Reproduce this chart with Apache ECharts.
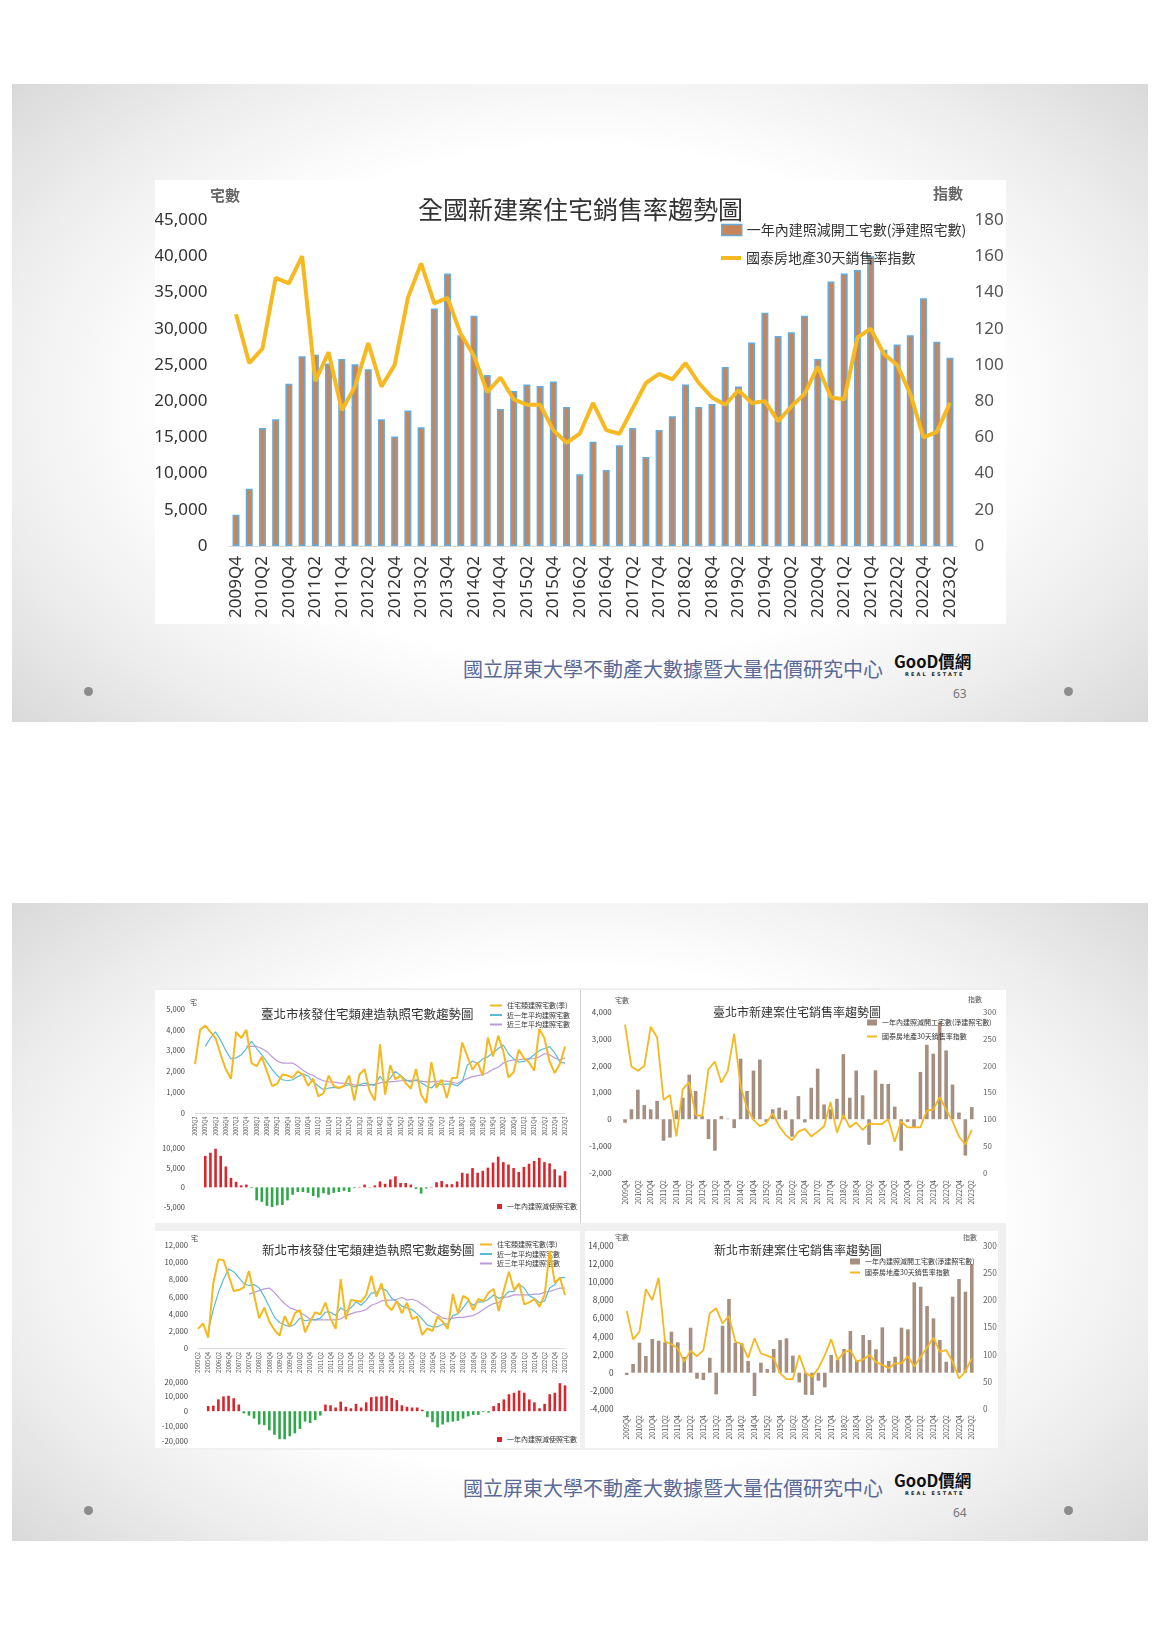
<!DOCTYPE html>
<html lang="zh-Hant">
<head>
<meta charset="utf-8">
<title>全國新建案住宅銷售率趨勢圖</title>
<script src="https://cdn.jsdelivr.net/npm/echarts@6/dist/echarts.min.js"></script>
<style>
html,body{margin:0;padding:0;}
body{width:1160px;height:1640px;background:#fff;position:relative;overflow:hidden;font-family:"Noto Sans CJK TC","Noto Sans",sans-serif;}
.slide{position:absolute;left:12px;width:1136px;height:638px;background:radial-gradient(ellipse 72% 80% at 50% 50%,#ffffff 50%,#eeeeee 72%,#d3d3d3 100%);}
.chart{position:absolute;background:#fff;}
.blk{position:absolute;}
.dot{position:absolute;width:9px;height:9px;border-radius:50%;background:#8c8c8c;}
.foot{position:absolute;left:463px;font-size:20px;color:#5a6a98;white-space:nowrap;line-height:1;}
.logo{position:absolute;left:894px;font-weight:700;font-size:16.5px;color:#111;line-height:1;white-space:nowrap;}
.re{position:absolute;left:905px;font-family:"DejaVu Sans",sans-serif;font-weight:700;font-size:5px;letter-spacing:2.1px;color:#222;line-height:1;white-space:nowrap;}
.pg{position:absolute;left:953px;font-family:"Noto Sans",sans-serif;font-size:12px;color:#777;line-height:1;}
</style>
</head>
<body>
<div class="slide" style="top:84px"></div>
<div class="slide" style="top:903px"></div>

<div class="chart" id="c0" style="left:155px;top:180px;width:851px;height:444px"></div>

<div class="blk" style="left:155px;top:988px;width:851px;height:462px;background:#f0f0f0"></div>
<div class="blk" style="left:155px;top:990px;width:851px;height:233px;background:#fff"></div>
<div class="blk" style="left:580px;top:990px;width:1px;height:233px;background:#cfcfcf"></div>
<div class="chart" id="c1" style="left:155px;top:990px;width:425px;height:232px"></div>
<div class="chart" id="c2" style="left:583px;top:990px;width:423px;height:232px"></div>
<div class="chart" id="c3" style="left:155px;top:1231px;width:425px;height:217px"></div>
<div class="chart" id="c4" style="left:585px;top:1231px;width:413px;height:217px"></div>

<div class="foot" style="top:659px">國立屏東大學不動產大數據暨大量估價研究中心</div>
<div class="logo" style="top:653px">GooD價網</div>
<div class="re" style="top:672px">REAL ESTATE</div>
<div class="pg" style="top:688px">63</div>
<div class="dot" style="left:84px;top:687px"></div>
<div class="dot" style="left:1064px;top:687px"></div>

<div class="foot" style="top:1478px">國立屏東大學不動產大數據暨大量估價研究中心</div>
<div class="logo" style="top:1472px">GooD價網</div>
<div class="re" style="top:1491px">REAL ESTATE</div>
<div class="pg" style="top:1507px">64</div>
<div class="dot" style="left:84px;top:1506px"></div>
<div class="dot" style="left:1064px;top:1506px"></div>

<script>
// ---------- categories ----------
const q55 = ['2009Q4',
 '2010Q1','2010Q2','2010Q3','2010Q4','2011Q1','2011Q2','2011Q3','2011Q4',
 '2012Q1','2012Q2','2012Q3','2012Q4','2013Q1','2013Q2','2013Q3','2013Q4',
 '2014Q1','2014Q2','2014Q3','2014Q4','2015Q1','2015Q2','2015Q3','2015Q4',
 '2016Q1','2016Q2','2016Q3','2016Q4','2017Q1','2017Q2','2017Q3','2017Q4',
 '2018Q1','2018Q2','2018Q3','2018Q4','2019Q1','2019Q2','2019Q3','2019Q4',
 '2020Q1','2020Q2','2020Q3','2020Q4','2021Q1','2021Q2','2021Q3','2021Q4',
 '2022Q1','2022Q2','2022Q3','2022Q4','2023Q1','2023Q2'];

const q73 = ['2005Q2','2005Q3','2005Q4',
 '2006Q1','2006Q2','2006Q3','2006Q4','2007Q1','2007Q2','2007Q3','2007Q4',
 '2008Q1','2008Q2','2008Q3','2008Q4','2009Q1','2009Q2','2009Q3','2009Q4',
 '2010Q1','2010Q2','2010Q3','2010Q4','2011Q1','2011Q2','2011Q3','2011Q4',
 '2012Q1','2012Q2','2012Q3','2012Q4','2013Q1','2013Q2','2013Q3','2013Q4',
 '2014Q1','2014Q2','2014Q3','2014Q4','2015Q1','2015Q2','2015Q3','2015Q4',
 '2016Q1','2016Q2','2016Q3','2016Q4','2017Q1','2017Q2','2017Q3','2017Q4',
 '2018Q1','2018Q2','2018Q3','2018Q4','2019Q1','2019Q2','2019Q3','2019Q4',
 '2020Q1','2020Q2','2020Q3','2020Q4','2021Q1','2021Q2','2021Q3','2021Q4',
 '2022Q1','2022Q2','2022Q3','2022Q4','2023Q1','2023Q2'];

// ---------- 全國 ----------
const mainBars = [4300,7900,16300,17500,22400,26200,26400,25200,25800,25100,
 24400,17500,15100,18700,16400,32800,37600,29100,31800,23600,
 18900,21400,22300,22100,22700,19200,9900,14400,10500,13900,
 16300,12300,16000,17900,22300,19200,19600,24700,22000,28100,
 32200,29000,29500,31800,25800,36500,37600,38100,40000,27100,
 27800,29100,34200,28200,26000];
const mainLine = [128,101,109,148,145,160,91,107,75,88,
 112,88,100,137,156,134,137,117,105,85,
 93,81,78,78,64,57,62,79,64,62,
 76,90,95,92,101,90,82,78,86,79,
 80,69,77,84,99,82,81,115,120,106,
 100,84,60,63,79];

// ---------- 臺北市 核發建照 (starts 2005Q2) ----------
const tpPermit = [2350,4000,4200,3900,3600,2800,2100,1650,3900,3600,
 4000,2400,2250,2700,2000,1300,1400,1850,1800,1700,
 2000,1850,1300,1650,800,950,1800,1300,1200,1300,
 1800,600,1850,2100,1040,600,3300,880,2300,1630,
 1800,1440,1170,2120,880,480,2440,1200,1600,720,
 1680,1700,3390,2720,2080,2440,1800,3630,2720,3720,
 2960,1710,1960,3040,2640,2440,2030,4040,3600,2480,
 1920,2350,3190];
const tpAvg1 = [3200,3600,3900,3500,3000,2600,2650,2800,          // from 2005Q4
 3100,3450,3100,2800,2450,2100,1800,1600,1550,1600,
 1750,1870,1780,1500,1300,1120,1200,1230,1200,1300,
 1360,1250,1350,1440,1380,1330,1760,1440,1680,2000,
 1800,1600,1490,1600,1450,1300,1200,1440,1360,1390,
 1400,1300,1500,2300,2500,2380,2600,2700,2900,3100,
 3270,2850,2600,2450,2480,2600,2800,3000,3100,3190,
 2900,2450,2400];
const tpAvg3 = [3200,3200,3200,3100,2950,2700,2500,2400,2400,2400, // from 2007Q4
 2250,2050,1900,1800,1650,1550,1500,1480,1450,1420,
 1400,1350,1320,1330,1350,1380,1450,1480,1500,1520,
 1550,1560,1570,1560,1530,1500,1500,1520,1550,1530,
 1480,1420,1550,1650,1750,1800,1850,1950,2100,2200,
 2400,2500,2550,2560,2600,2600,2620,2700,2850,2800,
 2650,2550,2650];
const tpNet = [8000,8800,9800,8000,5300,2400,1400,500,700,-200,   // from 2005Q4
 -3300,-3700,-4700,-5100,-4600,-4500,-3300,-1900,-1200,-1200,
 -1400,-2200,-2600,-1500,-1900,-1400,-1200,-900,-1200,-200,
 100,700,100,500,1500,900,2000,2800,1100,1100,
 700,-400,-1600,-300,100,1300,1600,800,800,1500,
 3700,3500,4900,3700,4200,5000,6300,7800,6400,5800,
 4900,3900,5200,6000,6700,7500,6400,6100,4600,3000,
 4100];

// ---------- 新北市 核發建照 (starts 2005Q2) ----------
const nbPermit = [2250,2900,1240,7550,10330,10260,8500,6660,6770,7080,
 8980,6190,3480,4720,3100,2130,1470,3750,2520,4060,
 4450,1860,3100,4180,3950,5300,3480,2250,8050,3370,
 5610,5530,5420,6190,8440,6000,7550,5030,4450,5500,
 4060,5300,3400,3680,1550,2320,2010,3680,3100,2250,
 6310,4060,6080,5730,4450,5730,5500,6460,6890,4340,
 6770,8900,6770,7550,5110,5340,5730,4840,6190,11300,
 7600,8200,6200];
const nbAvg1 = [2000,4500,6500,8000,9200,8900,8200,7500,            // from 2005Q4
 7300,7400,7000,6000,4800,3600,3000,2700,2500,2800,
 3500,3200,3300,3300,3500,4200,4200,3800,4700,4300,
 4700,5400,5000,5600,6400,6500,7000,6700,5800,5400,
 4900,4700,4500,4000,3400,2700,2500,2500,2800,2800,
 3800,4000,4700,5500,5000,5400,5400,5700,6200,5800,
 6000,6600,6600,7400,7000,6100,5800,5300,5500,7000,
 7400,8200,8200];
const nbAvg3 = [6300,6500,6700,6900,7000,6500,5800,5200,4700,4500, // from 2007Q4
 4200,3800,3400,3300,3300,3300,3300,3300,3400,3800,
 4000,4200,4300,4500,5000,5200,5500,5600,5600,5700,
 5900,5600,5700,5500,5100,4700,4200,3900,3500,3400,
 3500,3600,3600,3700,3800,4100,4500,4900,5200,5300,
 5900,6000,6200,6200,6200,6200,6300,6300,6500,6600,
 6800,7000,7000];
const nbNet = [3500,3800,8000,10000,10500,8800,4500,                // from 2005Q4
 -1500,-3000,-5000,-9000,-9500,-13000,-16000,-19000,-19000,-17000,-15000,-12000,-7000,-8000,-6000,-3000,
 4500,4000,2500,6500,3000,2000,5000,2500,6000,9500,10000,10000,10500,9000,7500,4000,3000,2500,2500,1000,
 -4000,-7500,-11000,-9000,-7500,-7000,-6500,-5000,-3500,-2500,-2500,-500,-1000,
 3500,5500,8000,11500,12500,14000,12500,8000,6000,2000,5000,11500,12500,19000,17500];

// ---------- 臺北市 / 新北市 銷售率 (2009Q4–2023Q2) ----------
const tpNetStart = [-130,370,1100,530,370,680,-800,-680,330,800,
 1660,1050,120,-740,-1170,120,20,-330,2250,1050,
 1810,2220,-100,370,430,330,-650,860,-120,1170,
 1880,550,370,760,2420,800,1810,890,-950,1820,
 1320,1310,470,-1170,-100,-310,1760,2770,2440,3610,
 2560,1290,250,-1350,450];
const tpIndex = [276,198,190,199,272,252,136,145,68,156,
 169,108,106,193,207,168,190,259,161,121,
 99,87,93,111,87,71,61,77,82,68,
 77,87,132,75,108,85,94,80,92,91,
 91,100,58,96,85,85,85,116,118,141,
 118,96,68,53,80];
const nbNetStart = [-260,960,3310,1840,3710,3530,3350,4520,3350,1730,
 4960,-660,-810,1650,-2390,5180,8120,3310,3240,1290,
 -2570,1100,400,2610,3600,3790,1880,-1070,-2430,-2460,
 -880,-1620,1950,1400,2610,4600,1400,4150,3600,2570,
 5000,1290,1760,4960,4780,9960,9490,7350,5990,3600,
 1210,8380,10330,8930,11950];
const nbIndex = [180,128,142,220,200,241,124,119,111,87,
 107,97,108,176,185,157,171,124,119,94,
 130,102,98,93,66,55,55,99,66,59,
 75,99,128,90,104,108,87,91,99,86,
 81,75,84,84,97,78,96,113,131,105,
 108,87,56,69,93];

// ---------- names ----------
const NAME_NET = '一年內建照減開工宅數(淨建照宅數)';
const NAME_IDX = '國泰房地產30天銷售率指數';
const NAME_P = '住宅類建照宅數(季)';
const NAME_A1 = '近一年平均建照宅數';
const NAME_A3 = '近三年平均建照宅數';
const NAME_NU = '一年內建照減使照宅數';

const CJK = '"Noto Sans CJK TC","Noto Sans",sans-serif';
const LAT = '"Noto Sans","Noto Sans CJK TC",sans-serif';
const YEL = '#f5b820', BLU = '#5cbad6', PUR = '#b99bd9', RED = '#d8262c', GRN = '#2fa84a';
const pad = (arr, n) => Array(n).fill(null).concat(arr);

// ================= main chart =================
echarts.init(document.getElementById('c0')).setOption({
  animation:false,
  textStyle:{fontFamily:LAT},
  title:{text:'全國新建案住宅銷售率趨勢圖',left:'center',top:12,
    textStyle:{fontSize:25,fontWeight:'normal',color:'#333',fontFamily:CJK}},
  graphic:[
    {type:'text',left:55,top:8,style:{text:'宅數',fontSize:15,fontWeight:'bold',fill:'#666',fontFamily:CJK}},
    {type:'text',left:778,top:6,style:{text:'指數',fontSize:15,fontWeight:'bold',fill:'#666',fontFamily:CJK}}
  ],
  legend:[
    {left:561,top:38,itemWidth:20,itemHeight:11,
     textStyle:{fontSize:14,color:'#333',fontFamily:CJK},
     data:[{name:NAME_NET,icon:'rect',itemStyle:{color:'#c8855a',borderColor:'#62acdf',borderWidth:1.5}}]},
    {left:561,top:66,itemWidth:20,itemHeight:4,
     textStyle:{fontSize:14,color:'#333',fontFamily:CJK},
     data:[{name:NAME_IDX,icon:'rect',itemStyle:{color:'#f6b922'}}]}
  ],
  grid:{left:74.4,right:49.4,top:40,bottom:78,outerBoundsMode:'none'},
  xAxis:{type:'category',data:q55,axisTick:{show:false},
    axisLine:{lineStyle:{color:'#d9d9d9'}},
    axisLabel:{rotate:90,interval:1,fontSize:17,color:'#333',margin:10,fontFamily:LAT}},
  yAxis:[
    {type:'value',min:0,max:45000,interval:5000,splitLine:{show:false},axisLine:{show:false},axisTick:{show:false},
     axisLabel:{fontSize:17,color:'#333',margin:22,fontFamily:LAT}},
    {type:'value',min:0,max:180,interval:20,position:'right',splitLine:{show:false},axisLine:{show:false},axisTick:{show:false},
     axisLabel:{fontSize:17,color:'#555',margin:18,fontFamily:LAT}}
  ],
  series:[
    {name:NAME_NET,type:'bar',data:mainBars,barWidth:7,
     itemStyle:{color:'#c8855a',borderColor:'#62acdf',borderWidth:1.5}},
    {name:NAME_IDX,type:'line',yAxisIndex:1,data:mainLine,symbol:'none',z:5,
     lineStyle:{width:4,color:'#f6b922'},itemStyle:{color:'#f6b922'}}
  ]
});

// ================= permit charts (top: lines, bottom: bars) =================
function permitChart(id, o){
  echarts.init(document.getElementById(id)).setOption({
    animation:false,
    textStyle:{fontFamily:CJK},
    title:{text:o.title,left:o.titleLeft,top:o.titleTop,textStyle:{fontSize:12.5,fontWeight:'normal',color:'#333',fontFamily:CJK}},
    graphic:[{type:'text',left:o.unit[0],top:o.unit[1],style:{text:'宅',fontSize:7,fill:'#444',fontFamily:CJK}}],
    legend:[
      {left:o.leg[0],top:o.leg[1],orient:'vertical',itemGap:2.5,itemWidth:12,itemHeight:2,
       textStyle:{fontSize:7,color:'#333',fontFamily:CJK},
       data:[{name:NAME_P,icon:'rect',itemStyle:{color:YEL}},
             {name:NAME_A1,icon:'rect',itemStyle:{color:BLU}},
             {name:NAME_A3,icon:'rect',itemStyle:{color:PUR}}]},
      {left:o.leg2[0],top:o.leg2[1],itemWidth:5,itemHeight:5,
       textStyle:{fontSize:7,color:'#333',fontFamily:CJK},
       data:[{name:NAME_NU,icon:'rect',itemStyle:{color:RED}}]}
    ],
    grid:[
      Object.assign({outerBoundsMode:'none'},o.g1),
      Object.assign({outerBoundsMode:'none'},o.g2)
    ],
    xAxis:[
      {gridIndex:0,type:'category',data:q73,boundaryGap:false,axisTick:{show:false},
       axisLine:{lineStyle:{color:'#dcdcdc'}},
       axisLabel:{rotate:90,interval:1,fontSize:o.xFont,color:'#555',margin:3.5}},
      {gridIndex:1,type:'category',data:q73,boundaryGap:false,show:false}
    ],
    yAxis:[
      {gridIndex:0,type:'value',min:0,max:o.y1max,interval:o.y1int,splitLine:{show:false},
       axisLine:{show:false},axisTick:{show:false},axisLabel:{fontSize:o.yFont,color:'#444',margin:10}},
      {gridIndex:1,type:'value',min:o.y2min,max:o.y2max,interval:o.y2int,splitLine:{show:false},
       axisLine:{show:false},axisTick:{show:false},axisLabel:{fontSize:o.yFont,color:'#444',margin:10}}
    ],
    series:[
      {name:NAME_A3,type:'line',xAxisIndex:0,yAxisIndex:0,data:pad(o.a3,10),symbol:'none',
       lineStyle:{width:1.2,color:PUR},itemStyle:{color:PUR}},
      {name:NAME_A1,type:'line',xAxisIndex:0,yAxisIndex:0,data:pad(o.a1,2),symbol:'none',
       lineStyle:{width:1.2,color:BLU},itemStyle:{color:BLU}},
      {name:NAME_P,type:'line',xAxisIndex:0,yAxisIndex:0,data:o.p,symbol:'none',z:5,
       lineStyle:{width:2,color:YEL},itemStyle:{color:YEL}},
      {name:NAME_NU,type:'bar',xAxisIndex:1,yAxisIndex:1,data:pad(o.net,2),barWidth:2.6,
       itemStyle:{color:p=>p.value>=0?RED:GRN}}
    ]
  });
}

permitChart('c1',{
  title:'臺北市核發住宅類建造執照宅數趨勢圖',titleLeft:101,titleTop:13,
  unit:[35,9],leg:[330,7],leg2:[337,208],
  g1:{left:40,right:15,top:19,height:104},
  g2:{left:40,right:15,top:158,height:59},
  xFont:5.5,yFont:7.5,y1max:5000,y1int:1000,y2min:-5000,y2max:10000,y2int:5000,
  p:tpPermit,a1:tpAvg1,a3:tpAvg3,net:tpNet
});

permitChart('c3',{
  title:'新北市核發住宅類建造執照宅數趨勢圖',titleLeft:102,titleTop:8,
  unit:[36,4],leg:[320,5],leg2:[337,200],
  g1:{left:43,right:15,top:14,height:103.3},
  g2:{left:43,right:15,top:150.7,height:59},
  xFont:6,yFont:7.7,y1max:12000,y1int:2000,y2min:-20000,y2max:20000,y2int:10000,
  p:nbPermit,a1:nbAvg1,a3:nbAvg3,net:nbNet
});

// ================= city sales-rate charts =================
function salesChart(id, o){
  echarts.init(document.getElementById(id)).setOption({
    animation:false,
    textStyle:{fontFamily:CJK},
    title:{text:o.title,left:o.titleLeft,top:o.titleTop,textStyle:{fontSize:12,fontWeight:'normal',color:'#333',fontFamily:CJK}},
    graphic:[
      {type:'text',left:o.u1[0],top:o.u1[1],style:{text:'宅數',fontSize:7,fill:'#555',fontFamily:CJK}},
      {type:'text',left:o.u2[0],top:o.u2[1],style:{text:'指數',fontSize:7,fill:'#555',fontFamily:CJK}}
    ],
    legend:[
      {left:o.leg[0],top:o.leg[1],itemWidth:10,itemHeight:6,
       textStyle:{fontSize:7,color:'#333',fontFamily:CJK},
       data:[{name:NAME_NET,icon:'rect',itemStyle:{color:'#a48f80'}}]},
      {left:o.leg[0],top:o.leg[2],itemWidth:10,itemHeight:2,
       textStyle:{fontSize:7,color:'#333',fontFamily:CJK},
       data:[{name:NAME_IDX,icon:'rect',itemStyle:{color:YEL}}]}
    ],
    grid:Object.assign({outerBoundsMode:'none'},o.g),
    xAxis:{type:'category',data:q55,axisTick:{show:false},axisLine:{show:false},
      axisLabel:{rotate:90,interval:1,fontSize:7,color:'#555',margin:o.xMargin}},
    yAxis:[
      {type:'value',min:o.ymin,max:o.ymax,interval:o.yint,splitLine:{show:false},axisLine:{show:false},axisTick:{show:false},
       axisLabel:{fontSize:o.yFont,color:'#444',margin:10}},
      {type:'value',min:0,max:300,interval:50,position:'right',splitLine:{show:false},axisLine:{show:false},axisTick:{show:false},
       axisLabel:{fontSize:o.yFont,color:'#666',margin:8}}
    ],
    series:[
      {name:NAME_NET,type:'bar',data:o.net,barWidth:3.6,itemStyle:{color:'#a48f80'}},
      {name:NAME_IDX,type:'line',yAxisIndex:1,data:o.idx,symbol:'none',z:5,
       lineStyle:{width:1.8,color:YEL},itemStyle:{color:YEL}}
    ]
  });
}

salesChart('c2',{
  title:'臺北市新建案住宅銷售率趨勢圖',titleLeft:125,titleTop:11,
  u1:[32,7],u2:[385,6],leg:[279,24,38],
  g:{left:38.8,right:31,top:21.7,height:161.3},
  xMargin:7,yFont:8,ymin:-2000,ymax:4000,yint:1000,
  net:tpNetStart,idx:tpIndex
});

salesChart('c4',{
  title:'新北市新建案住宅銷售率趨勢圖',titleLeft:124,titleTop:8,
  u1:[30,3],u2:[378,3],leg:[260,22,33],
  g:{left:38.5,right:23,top:14.7,height:163.3},
  xMargin:6,yFont:8.3,ymin:-4000,ymax:14000,yint:2000,
  net:nbNetStart,idx:nbIndex
});
</script>
</body>
</html>
